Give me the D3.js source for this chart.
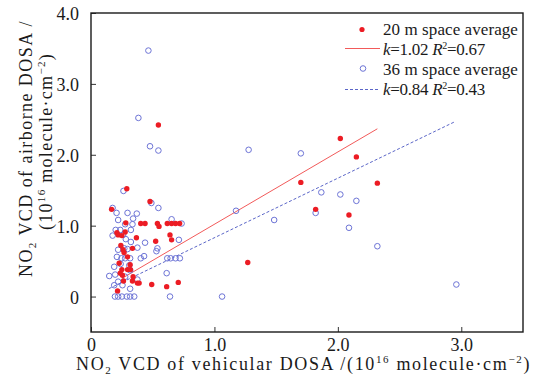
<!DOCTYPE html>
<html><head><meta charset="utf-8">
<script src="https://cdn.jsdelivr.net/npm/d3@7"></script>
<style>body{margin:0;background:#fff} text{font-family:"Liberation Serif","Times New Roman",serif;fill:#1a1a1a}</style>
</head><body><svg id="c" width="534" height="383"></svg>
<script>
const xTicks=[0,1,2,3], xTickLabels=["0","1.0","2.0","3.0"];
const yTicks=[0,1,2,3,4], yTickLabels=["0","1.0","2.0","3.0","4.0"];
const red20x=[0.546,0.29,0.478,0.167,0.403,0.438,0.538,0.551,0.618,0.653,0.685,0.718,0.282,0.21,0.22,0.25,0.277,0.368,0.64,0.653,0.524,0.242,0.336,0.26,0.268,0.296,0.228,0.317,0.296,0.25,0.32,0.255,0.336,0.376,0.39,0.263,0.492,0.613,0.707,0.215,1.27,0.237,0.341,2.02,2.15,1.70,2.32,1.82,2.09];
const red20y=[2.42,1.52,1.34,1.23,1.03,1.03,1.03,0.99,1.03,1.03,1.03,1.03,1.04,0.90,0.87,0.86,0.91,0.83,0.87,0.80,0.78,0.72,0.68,0.66,0.62,0.56,0.47,0.45,0.38,0.38,0.38,0.30,0.22,0.19,0.19,0.22,0.17,0.14,0.20,0.08,0.48,0.33,0.28,2.23,1.97,1.61,1.60,1.23,1.15];
const blue36x=[0.465,0.384,0.478,0.546,1.277,0.263,0.489,0.175,0.546,1.175,1.484,0.207,0.296,0.371,0.341,0.22,0.277,0.336,0.653,0.734,0.237,0.323,0.20,0.175,0.26,0.282,0.712,0.323,0.438,0.22,0.27,0.376,0.296,0.538,0.53,0.247,0.277,0.317,0.403,0.43,0.618,0.645,0.685,0.72,0.21,0.24,0.188,0.31,0.148,0.196,0.317,0.277,0.376,0.613,0.22,0.255,0.317,0.188,0.194,0.22,0.25,0.29,0.317,0.35,0.64,1.062,1.70,1.866,2.02,2.15,1.82,2.09,2.32,2.96];
const blue36y=[3.47,2.52,2.12,2.06,2.07,1.49,1.32,1.25,1.25,1.21,1.08,1.18,1.18,1.17,1.10,1.08,1.02,1.02,1.09,1.03,0.94,0.94,0.94,0.86,0.87,0.81,0.80,0.77,0.76,0.66,0.68,0.69,0.67,0.68,0.64,0.54,0.54,0.54,0.54,0.57,0.54,0.54,0.54,0.54,0.56,0.46,0.42,0.44,0.29,0.31,0.37,0.28,0.24,0.33,0.21,0.16,0.11,0.16,0,0,0,0,0,0,0,0,2.02,1.47,1.44,1.35,1.18,0.97,0.71,0.17];
const fit20=[1.02,0.0,0.25,2.32]; // slope, intercept, xStart, xEnd
const fit36=[0.84,-0.01,0.145,2.94];
const legendLabels=["20 m space average","36 m space average"];

const svg=d3.select("#c");
const L=91,R=523,T=13,B=332;
const x=d3.scaleLinear().domain([0,3.5]).range([L,R]);
const y=d3.scaleLinear().domain([-0.5,4.0]).range([B,T]);
const redC="#ec1c24", blueC="#6d74d6", redL="#f25a5a", blueL="#5b66c8";
const FF="Liberation Serif";

function fitWidth(t,target){
  const n=t.text().length;
  const w=t.node().getComputedTextLength();
  t.style("letter-spacing",((target-w)/n)+"px");
}

// axes (inward ticks)
const xa=d3.axisBottom(x).tickValues(xTicks).tickSize(-5).tickPadding(6).tickFormat((d,i)=>xTickLabels[i]);
const ya=d3.axisLeft(y).tickValues(yTicks).tickSize(-5).tickPadding(12).tickFormat((d,i)=>yTickLabels[i]);
const gx=svg.append("g").attr("transform",`translate(0,${B})`).call(xa);
const gy=svg.append("g").attr("transform",`translate(${L},0)`).call(ya);
[gx,gy].forEach(g=>{g.select(".domain").remove();g.selectAll("line").attr("stroke","#333");g.selectAll("text").style("font-family",FF).style("font-size","18px").attr("fill","#1a1a1a");});
gy.selectAll("text").attr("dy","0.36em");
svg.append("rect").attr("x",L).attr("y",T).attr("width",R-L).attr("height",B-T).attr("fill","none").attr("stroke","#1a1a1a").attr("stroke-width",1.4);

// fit lines
svg.append("line").attr("x1",x(fit20[2])).attr("y1",y(fit20[0]*fit20[2]+fit20[1])).attr("x2",x(fit20[3])).attr("y2",y(fit20[0]*fit20[3]+fit20[1])).attr("stroke",redL).attr("stroke-width",1);
svg.append("line").attr("x1",x(fit36[2])).attr("y1",y(fit36[0]*fit36[2]+fit36[1])).attr("x2",x(fit36[3])).attr("y2",y(fit36[0]*fit36[3]+fit36[1])).attr("stroke",blueL).attr("stroke-width",1).attr("stroke-dasharray","3,2");

// points
svg.append("g").selectAll("circle").data(blue36x.map((v,i)=>[v,blue36y[i]])).join("circle")
 .attr("cx",d=>x(d[0])).attr("cy",d=>y(d[1])).attr("r",2.8).attr("fill","none").attr("stroke",blueC).attr("stroke-width",1);
svg.append("g").selectAll("circle").data(red20x.map((v,i)=>[v,red20y[i]])).join("circle")
 .attr("cx",d=>x(d[0])).attr("cy",d=>y(d[1])).attr("r",2.7).attr("fill",redC);

// legend
const lg=svg.append("g").style("font-size","17px");
lg.append("circle").attr("cx",362).attr("cy",29.5).attr("r",2.6).attr("fill",redC);
fitWidth(lg.append("text").attr("x",383).attr("y",35).text(legendLabels[0]),135);
lg.append("line").attr("x1",345).attr("x2",380).attr("y1",48.5).attr("y2",48.5).attr("stroke",redL);
function fitText(yy,k,r2){
  const t=lg.append("text").attr("x",383).attr("y",yy);
  t.append("tspan").style("font-style","italic").text("k");
  t.append("tspan").text("="+k+" ");
  t.append("tspan").style("font-style","italic").text("R");
  t.append("tspan").attr("dy",-6).style("font-size","10px").text("2");
  t.append("tspan").attr("dy",6).text("="+r2);
  fitWidth(t,102);
}
fitText(55,"1.02","0.67");
lg.append("circle").attr("cx",363).attr("cy",68.5).attr("r",2.8).attr("fill","none").attr("stroke",blueC);
fitWidth(lg.append("text").attr("x",383).attr("y",75).text(legendLabels[1]),135);
lg.append("line").attr("x1",345).attr("x2",378).attr("y1",89.5).attr("y2",89.5).attr("stroke",blueL).attr("stroke-dasharray","3,2");
fitText(95,"0.84","0.43");

// x title
const xt=svg.append("text").attr("x",76).attr("y",369.5).style("font-size","18px");
xt.append("tspan").text("NO");
xt.append("tspan").attr("dy",4).style("font-size","11px").text("2");
xt.append("tspan").attr("dy",-4).text(" VCD of vehicular DOSA /(10");
xt.append("tspan").attr("dy",-7).style("font-size","11px").text("16");
xt.append("tspan").attr("dy",7).text(" molecule\u00B7cm");
xt.append("tspan").attr("dy",-7).style("font-size","11px").text("\u22122");
xt.append("tspan").attr("dy",7).text(")");
fitWidth(xt,455);

// y title
const yt1=svg.append("text").attr("transform","translate(32,277) rotate(-90)").style("font-size","18px");
yt1.append("tspan").text("NO");
yt1.append("tspan").attr("dy",4).style("font-size","11px").text("2");
yt1.append("tspan").attr("dy",-4).text(" VCD of airborne DOSA /");
fitWidth(yt1,257);
const yt2=svg.append("text").attr("transform","translate(52,230) rotate(-90)").style("font-size","18px");
yt2.append("tspan").text("(10");
yt2.append("tspan").attr("dy",-7).style("font-size","11px").text("16");
yt2.append("tspan").attr("dy",7).text(" molecule\u00B7cm");
yt2.append("tspan").attr("dy",-7).style("font-size","11px").text("\u22122");
yt2.append("tspan").attr("dy",7).text(")");
fitWidth(yt2,177);
</script></body></html>
